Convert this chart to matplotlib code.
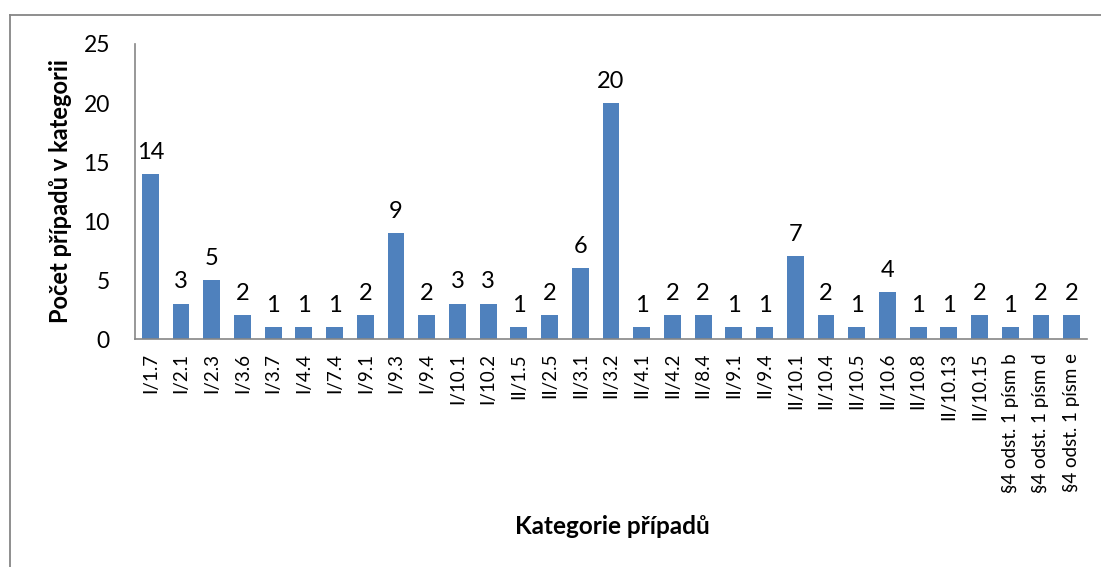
import matplotlib
matplotlib.use("Agg")
import matplotlib.pyplot as plt
from matplotlib.lines import Line2D

plt.rcParams['font.family'] = ['Lato', 'DejaVu Sans']

# data
categories = ["I/1.7", "I/2.1", "I/2.3", "I/3.6", "I/3.7", "I/4.4", "I/7.4", "I/9.1",
              "I/9.3", "I/9.4", "I/10.1", "I/10.2", "II/1.5", "II/2.5", "II/3.1", "II/3.2",
              "II/4.1", "II/4.2", "II/8.4", "II/9.1", "II/9.4", "II/10.1", "II/10.4",
              "II/10.5", "II/10.6", "II/10.8", "II/10.13", "II/10.15",
              "§4 odst. 1 písm b", "§4 odst. 1 písm d", "§4 odst. 1 písm e"]
counts = [14, 3, 5, 2, 1, 1, 1, 2, 9, 2, 3, 3, 1, 2, 6, 20, 1, 2, 2, 1, 1, 7, 2, 1, 4, 1, 1, 2, 1, 2, 2]
yticks = [0, 5, 10, 15, 20, 25]

fig = plt.figure(figsize=(11.01, 5.67), dpi=100)
ax = fig.add_axes([0.1226, 0.4021, 0.9873 - 0.1226, 0.9224 - 0.4021])

x = range(len(categories))
bars = ax.bar(x, counts, width=0.55, color="#4F81BD")
ax.bar_label(bars, labels=[str(c) for c in counts], padding=8, fontsize=17)

ax.set_xlim(-0.5, len(categories) - 0.5)
ax.set_ylim(0, 25)
ax.set_yticks(yticks)
ax.set_xticks(list(x))
ax.set_xticklabels(categories, rotation=90, fontsize=13.5)
ax.tick_params(axis="y", length=0, pad=18, labelsize=16.5)
ax.tick_params(axis="x", length=0, pad=10)

for s in ["top", "right"]:
    ax.spines[s].set_visible(False)
for s in ["left", "bottom"]:
    ax.spines[s].set_color("#868686")
    ax.spines[s].set_linewidth(1.2)

ax.set_ylabel("Počet případů v kategorii", fontsize=17, fontweight="bold")
ax.yaxis.set_label_coords(-0.066, 0.5)
fig.text(612 / 1101, 1 - 527 / 567, "Kategorie případů", fontsize=17.5, fontweight="bold",
         ha="center", va="center")

# chart area border
bx, by = 9.5 / 1101, 1 - 14.5 / 567
fig.add_artist(Line2D([bx, bx], [by, -0.01], transform=fig.transFigure, color="#868686", lw=1.3))
fig.add_artist(Line2D([bx, 1.01], [by, by], transform=fig.transFigure, color="#868686", lw=1.3))

fig.savefig("out.png", dpi=100)
